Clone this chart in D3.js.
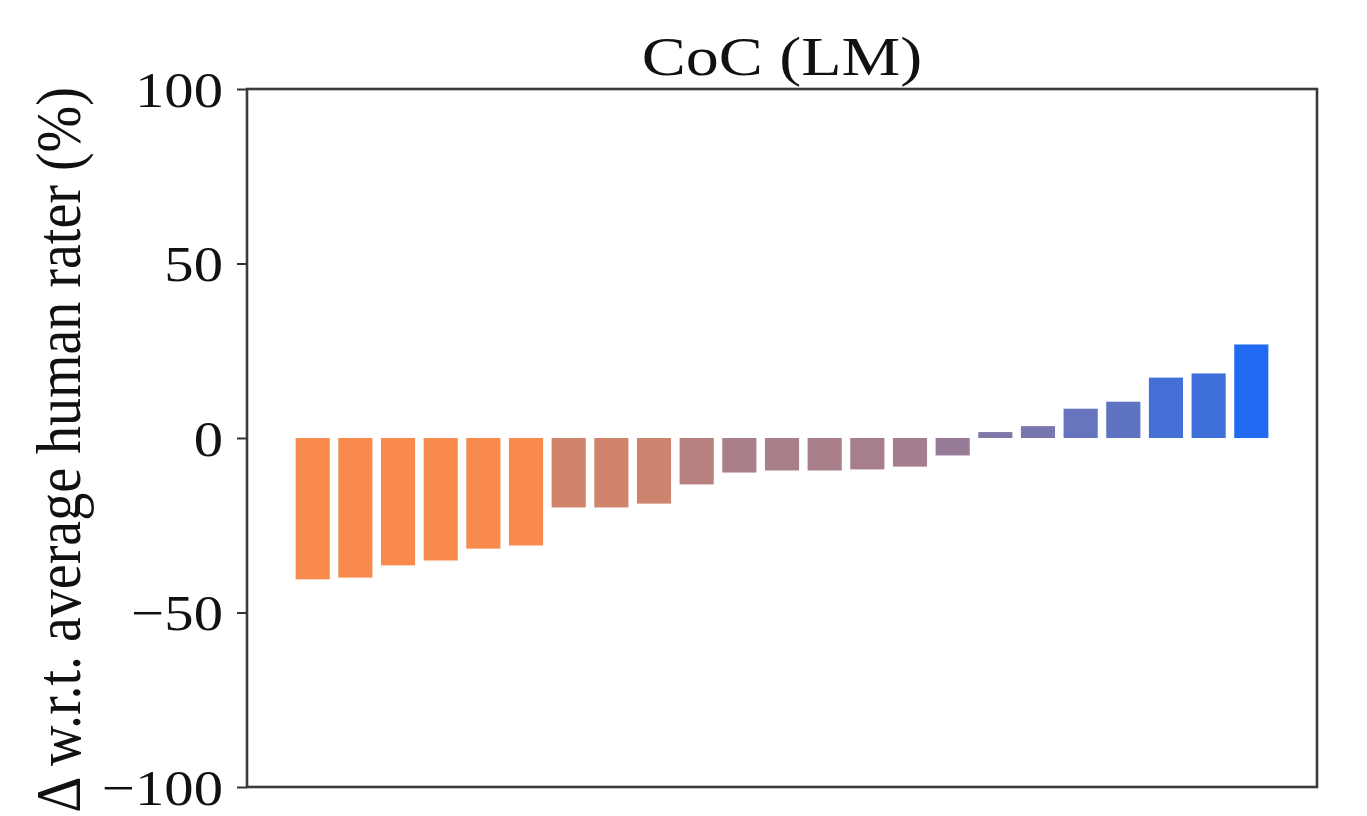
<!DOCTYPE html>
<html>
<head>
<meta charset="utf-8">
<script src="https://cdn.jsdelivr.net/npm/d3@7"></script>
<style>
  html, body { margin: 0; padding: 0; background: #fff; }
  svg { display: block; }
</style>
</head>
<body>
<svg id="chart" width="1367" height="816"></svg>
<script>
// ---- data ----
const categories = d3.range(23).map(i => "m" + (i + 1));
const values = [-40.5, -40.0, -36.5, -35.1, -31.7, -30.8, -19.9, -19.9, -18.8, -13.3,
                -9.9, -9.3, -9.3, -9.0, -8.2, -5.0, 1.7, 3.4, 8.4, 10.4, 17.3, 18.5, 26.8];
const yTicks = [-100, -50, 0, 50, 100];
const titleText = "CoC (LM)";
const yLabelText = "\u0394 w.r.t. average human rater (%)";

// ---- font detection ----
function hasFont(name) {
  const c = document.createElement("canvas").getContext("2d");
  const s = "mmmmmmmmmmlliWW0123";
  c.font = "72px monospace"; const a = c.measureText(s).width;
  c.font = `72px "${name}", monospace`; const b = c.measureText(s).width;
  c.font = "72px sans-serif"; const a2 = c.measureText(s).width;
  c.font = `72px "${name}", sans-serif`; const b2 = c.measureText(s).width;
  return a !== b || a2 !== b2;
}
const candidates = ["Liberation Serif", "Tinos", "Times New Roman", "Nimbus Roman", "FreeSerif", "DejaVu Serif"];
const fontName = candidates.find(hasFont) || "serif";
const isTimes = fontName !== "DejaVu Serif" && fontName !== "serif";
const FONT = `"${fontName}", serif`;

// ---- layout ----
const svg = d3.select("#chart");
const L = 247, R = 1317, T = 89, B = 787;
const sx = isTimes ? 1.15 : 0.95; // horizontal text stretch
const fs = isTimes ? 51 : 46;

const n = categories.length, bw = 0.8;
const pad = 0.05 * ((n - 1) + bw);
const x = d3.scaleLinear().domain([-bw / 2 - pad, n - 1 + bw / 2 + pad]).range([L, R]);
const y = d3.scaleLinear().domain([-100, 100]).range([B, T]);
const color = d3.scaleLinear().domain([-30.5, 27]).range(["#F98A4E", "#1F6BF2"]).clamp(true);

// bars
svg.append("g").selectAll("rect")
  .data(values)
  .join("rect")
  .attr("x", (d, i) => x(i - bw / 2))
  .attr("width", x(bw) - x(0))
  .attr("y", d => y(Math.max(0, d)))
  .attr("height", d => Math.abs(y(d) - y(0)))
  .attr("fill", d => color(d));

// y axis ticks
const yAxis = d3.axisLeft(y).tickValues(yTicks).tickSize(10).tickPadding(0)
  .tickFormat(d => (d < 0 ? "\u2212" : "") + Math.abs(d));
const gy = svg.append("g").attr("transform", `translate(${L},0)`).call(yAxis);
gy.attr("font-family", null).attr("font-size", null);
gy.select(".domain").remove();
gy.selectAll(".tick line").attr("stroke", "#333").attr("stroke-width", 2);
gy.selectAll(".tick text")
  .attr("x", null)
  .attr("transform", `translate(-24,0) scale(${sx},1)`)
  .attr("dy", "0.34em")
  .attr("text-anchor", "end")
  .style("font-family", FONT)
  .style("font-size", fs + "px")
  .attr("fill", "#111");

// frame
svg.append("rect")
  .attr("x", L).attr("y", T)
  .attr("width", R - L).attr("height", B - T)
  .attr("fill", "none").attr("stroke", "#3a3a3a").attr("stroke-width", 2.6);

// title
svg.append("text")
  .attr("transform", `translate(${(L + R) / 2},75) scale(${isTimes ? 1.2 : 1},1)`)
  .attr("text-anchor", "middle")
  .style("font-family", FONT)
  .style("font-size", (isTimes ? 55 : 50) + "px")
  .attr("fill", "#111")
  .text(titleText);

// y label
svg.append("text")
  .attr("transform", `translate(80,${(T + B) / 2 + 12}) scale(${sx},1) rotate(-90)`)
  .attr("text-anchor", "middle")
  .style("font-family", FONT)
  .style("font-size", (isTimes ? 56 : 48) + "px")
  .attr("fill", "#111")
  .text(yLabelText);
</script>
</body>
</html>
